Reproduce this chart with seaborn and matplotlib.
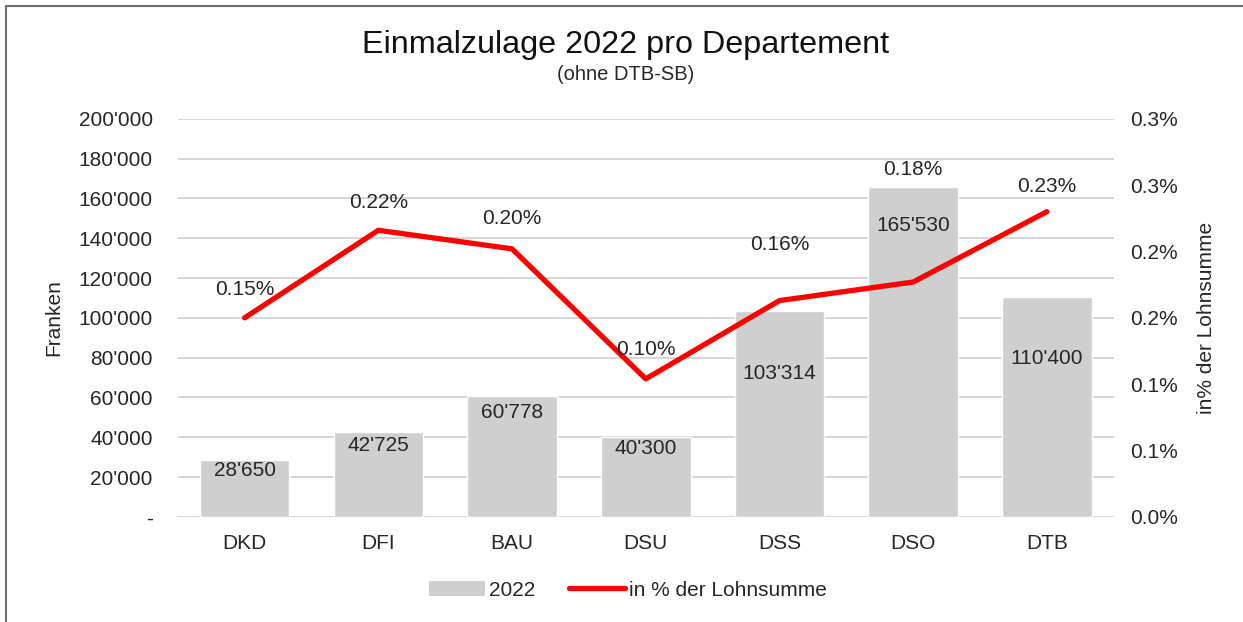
import numpy as np
import pandas as pd
import matplotlib
matplotlib.use("Agg")
import matplotlib.pyplot as plt
from matplotlib.lines import Line2D
from matplotlib.patches import Patch
from matplotlib.ticker import FuncFormatter
import seaborn as sns

# Daten
departemente = ["DKD", "DFI", "BAU", "DSU", "DSS", "DSO", "DTB"]
zulage_2022 = [28650, 42725, 60778, 40300, 103314, 165530, 110400]
prozent_lohnsumme = [0.150, 0.216, 0.202, 0.104, 0.163, 0.177, 0.230]

# Lage der Beschriftungen (in Achseneinheiten)
bar_label_y = [23100, 35700, 52300, 34200, 71900, 146200, 79400]
line_label_y = [0.171, 0.237, 0.225, 0.126, 0.205, 0.262, 0.249]

df = pd.DataFrame({"Departement": departemente, "Zulage": zulage_2022,
                   "Prozent": prozent_lohnsumme})

sns.set_theme(style="white")
plt.rcParams["font.family"] = ["Liberation Sans", "DejaVu Sans"]
text_col = "#262626"

fig = plt.figure(figsize=(12.43, 6.22), dpi=100)
ax = fig.add_axes([0.143, 0.169, 0.753, 0.640])

sns.barplot(data=df, x="Departement", y="Zulage", color="#d0cfd0",
            saturation=1, width=0.67, ax=ax, zorder=2)
ax.set_ylim(0, 200000)
ax.set_yticks(np.arange(0, 200001, 20000))
ax.yaxis.set_major_formatter(FuncFormatter(
    lambda v, p: "-" if v == 0 else f"{int(v):,}".replace(",", "'")))
ax.grid(axis="y", color="#d6d6d6", linewidth=1.4)
ax.set_axisbelow(True)
ax.set_xlim(-0.5, len(departemente) - 0.5)
ax.set_xlabel("")
ax.set_ylabel("Franken", fontsize=15, color=text_col)
ax.yaxis.set_label_coords(-0.122, 0.5)
ax.tick_params(axis="y", length=0, pad=18, labelsize=15, labelcolor=text_col)
ax.tick_params(axis="x", length=0, pad=12, labelsize=15, labelcolor=text_col)
for s in ax.spines.values():
    s.set_visible(False)

for i, v in enumerate(zulage_2022):
    ax.text(i, bar_label_y[i], f"{v:,}".replace(",", "'"), ha="center",
            va="center", fontsize=15, color=text_col, zorder=3)

ax2 = ax.twinx()
sns.lineplot(x=np.arange(len(departemente)), y=prozent_lohnsumme, ax=ax2,
             color="#ff0000", linewidth=3.8, solid_capstyle="round")
ax2.set_ylim(0, 0.30)
ax2.set_yticks(np.arange(0, 0.301, 0.05))
# Excel rundet 0.05 -> 0.1, 0.25 -> 0.3
ax2.yaxis.set_major_formatter(FuncFormatter(lambda v, p: f"{v + 1e-9:.1f}%"))
ax2.set_ylabel("in% der Lohnsumme", fontsize=15, color=text_col)
ax2.yaxis.set_label_coords(1.089, 0.5)
ax2.tick_params(axis="y", length=0, pad=12, labelsize=15, labelcolor=text_col)
for s in ax2.spines.values():
    s.set_visible(False)

for i, v in enumerate(prozent_lohnsumme):
    ax2.text(i, line_label_y[i], f"{v:.2f}%", ha="center", va="center",
             fontsize=15, color=text_col)

# Titel
fig.text(0.503, 0.928, "Einmalzulage 2022 pro Departement", ha="center",
         va="center", fontsize=23.3, color="#111111")
fig.text(0.503, 0.881, "(ohne DTB-SB)", ha="center", va="center",
         fontsize=14.5, color=text_col)

# Legende
handles = [Patch(facecolor="#d0cfd0", edgecolor="none"),
           Line2D([0], [0], color="#ff0000", linewidth=3.8, solid_capstyle="round")]
fig.legend(handles, ["2022", "in % der Lohnsumme"], loc="center",
           bbox_to_anchor=(0.505, 0.051), ncol=2, frameon=False, fontsize=15,
           handlelength=2.7, handletextpad=0.2, columnspacing=1.6,
           labelcolor=text_col)

# Rahmen oben und links
fig.add_artist(Line2D([0.005, 0.005], [0, 0.991], transform=fig.transFigure,
                      color="#707070", linewidth=1.5))
fig.add_artist(Line2D([0.005, 1], [0.991, 0.991], transform=fig.transFigure,
                      color="#707070", linewidth=1.5))

fig.savefig("out.png", dpi=100)
